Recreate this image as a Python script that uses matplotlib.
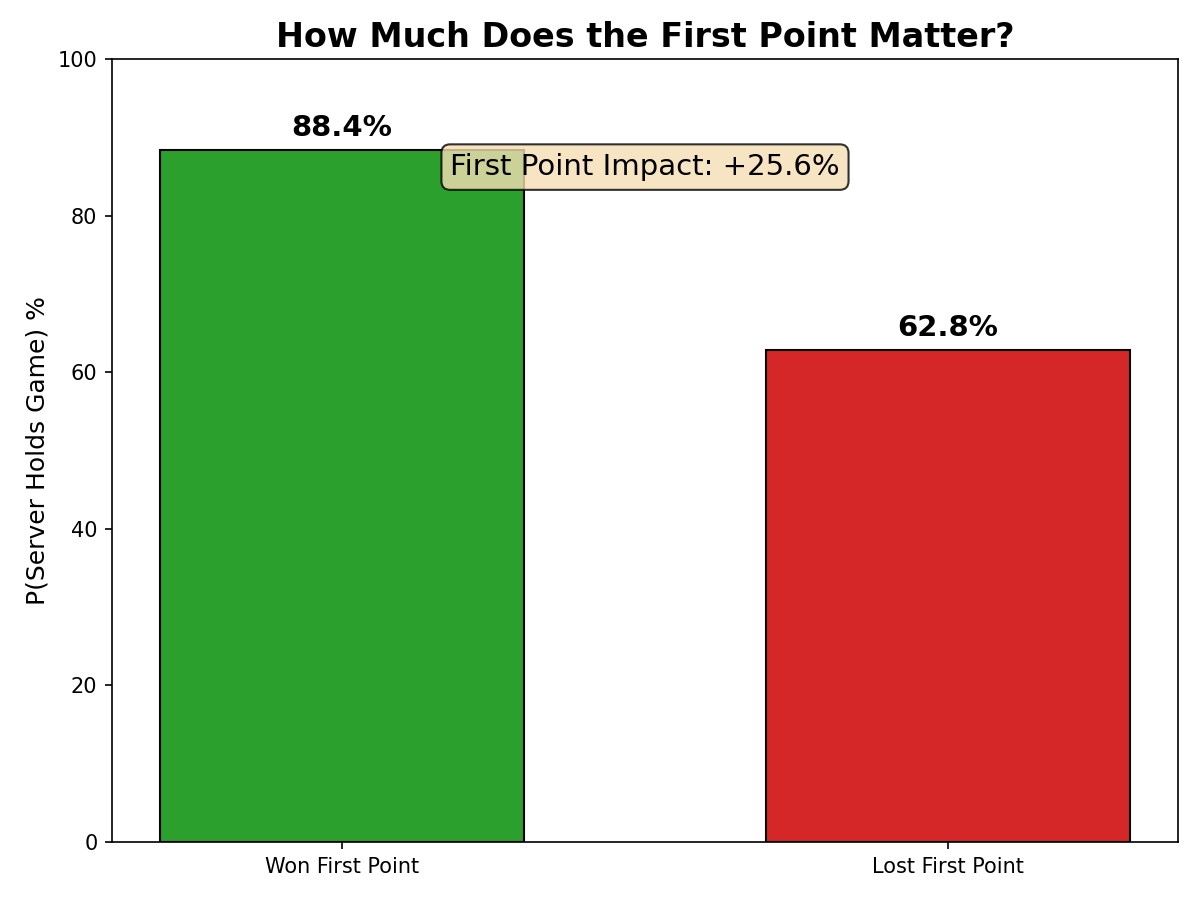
import matplotlib
matplotlib.use("Agg")
import matplotlib.pyplot as plt

categories = ["Won First Point", "Lost First Point"]
hold_pct = [88.4, 62.8]
bar_colors = ["#2ca02c", "#d62728"]
impact = hold_pct[0] - hold_pct[1]

fig, ax = plt.subplots(figsize=(8, 6), dpi=150)

bars = ax.bar(categories, hold_pct, width=0.6, color=bar_colors,
              edgecolor="black", linewidth=1.0)

for bar, val in zip(bars, hold_pct):
    ax.text(bar.get_x() + bar.get_width() / 2, val + 1, f"{val:.1f}%",
            ha="center", va="bottom", fontsize=14, fontweight="bold")

ax.text(0.5, 0.862, f"First Point Impact: +{impact:.1f}%",
        transform=ax.transAxes, ha="center", va="center", fontsize=14,
        bbox=dict(boxstyle="round,pad=0.3", facecolor="wheat", alpha=0.8,
                  edgecolor="black", linewidth=1.0))

ax.set_ylim(0, 100)
ax.set_ylabel("P(Server Holds Game) %", fontsize=12)
ax.set_title("How Much Does the First Point Matter?", fontsize=16,
             fontweight="bold")

fig.subplots_adjust(left=0.0933, right=0.9817, top=0.9344, bottom=0.0644)
fig.savefig("out.png", dpi=150)
